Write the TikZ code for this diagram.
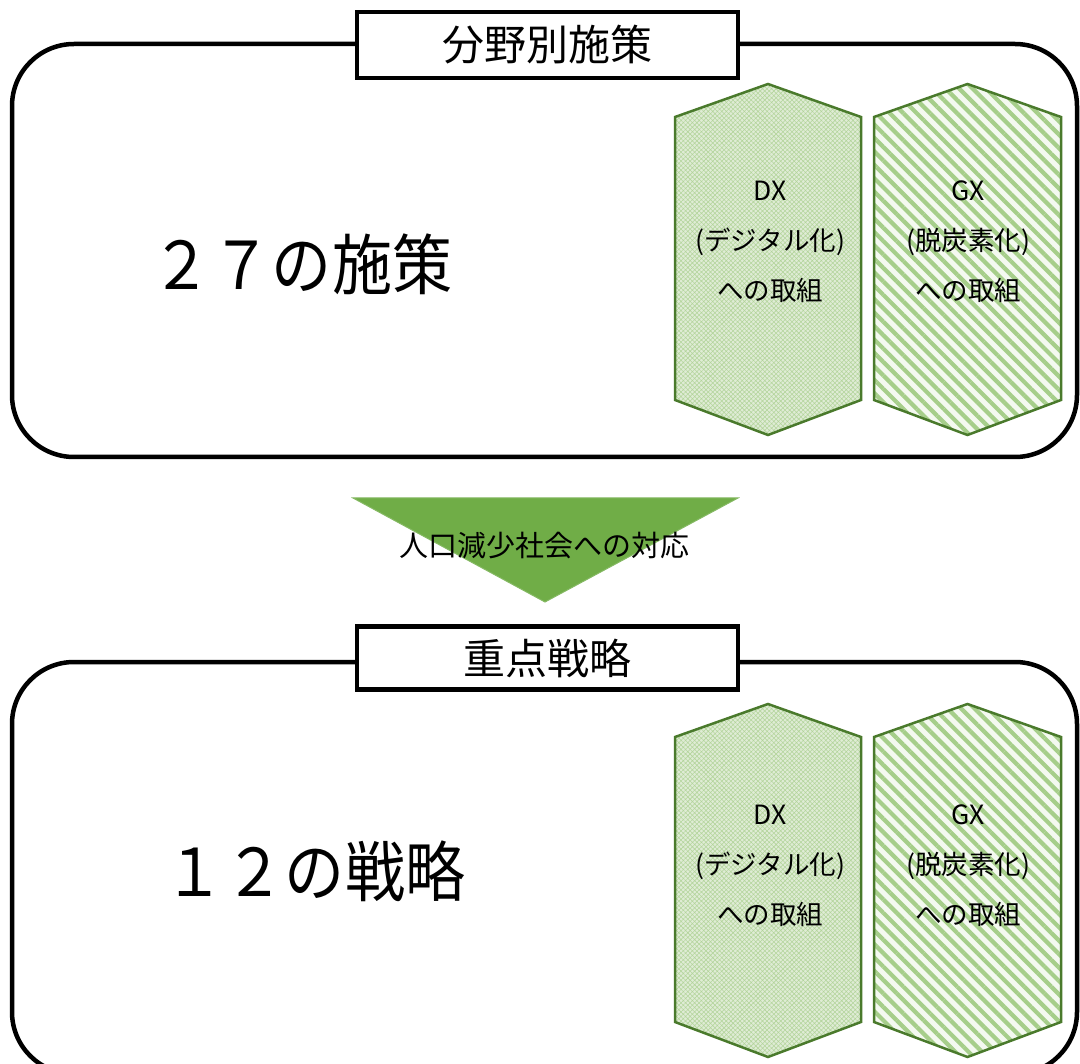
\documentclass[tikz,border=0pt]{standalone}
\usepackage{fontspec}
\setmainfont{Noto Sans CJK JP}
\usetikzlibrary{patterns.meta}
\definecolor{hexline}{HTML}{4A7A2C}
\definecolor{dxfill}{HTML}{DFECD5}
\definecolor{dxpat}{HTML}{B3D49B}
\definecolor{gxfill}{HTML}{F4F9F0}
\definecolor{gxpat}{HTML}{A6CE8A}
\definecolor{trifill}{HTML}{70AD47}
\newcommand{\hexshape}[5]{%
  \path[#5] ({#1},{#3+33}) -- ({(#1+#2)/2},{#3}) -- ({#2},{#3+33}) -- ({#2},{#4-35}) -- ({(#1+#2)/2},{#4}) -- ({#1},{#4-35}) -- cycle;}
\tikzset{
  bigframe/.style={draw=black, line width=4.5pt, rounded corners=62pt},
  titlebox/.style={draw=black, fill=white, line width=4.5pt, minimum width=381pt, minimum height=66pt, inner sep=0pt, font=\fontsize{42}{44}\selectfont},
  hextext/.style={align=center, font=\fontsize{26.5}{50}\selectfont, inner sep=0pt},
  bigtext/.style={font=\fontsize{66}{70}\selectfont, xscale=0.91, inner sep=0pt},
  dxbg/.style={fill=dxfill},
  dxpt/.style={pattern={Hatch[distance=3.2pt, angle=45, line width=0.55pt]}, pattern color=dxpat},
  gxbg/.style={fill=gxfill},
  gxpt/.style={pattern={Lines[distance=9.5pt, angle=-45, line width=4.2pt]}, pattern color=gxpat},
  hexborder/.style={draw=hexline, line width=2.5pt, line join=miter}
}
\begin{document}
\begin{tikzpicture}[x=1pt,y=-1pt]
\useasboundingbox (0,0) rectangle (1080,1064);
\fill[white] (0,0) rectangle (1080,1064);

% ---------- top panel ----------
\draw[bigframe] (12,44) rectangle (1077,457);
\node[titlebox] (t1) at (547.5,45) {分野別施策};
\node[bigtext] (n27) at (302,264) {２７の施策};

\hexshape{675}{861}{84}{435}{dxbg}
\hexshape{675}{861}{84}{435}{dxpt}
\hexshape{675}{861}{84}{435}{hexborder}
\node[hextext] (dx1) at (770,242) {DX\\(デジタル化)\\への取組};

\hexshape{874}{1061}{84}{435}{gxbg}
\hexshape{874}{1061}{84}{435}{gxpt}
\hexshape{874}{1061}{84}{435}{hexborder}
\node[hextext] (gx1) at (968,242) {GX\\(脱炭素化)\\への取組};

% ---------- arrow ----------
\coordinate (ta) at (353,498);
\coordinate (tb) at (738,498);
\coordinate (tc) at (545,602);
\draw[fill=trifill, draw=trifill!85!white, line width=1pt] (ta) -- (tb) -- (tc) -- cycle;
\node[font=\fontsize{29}{32}\selectfont, inner sep=0pt] (arr) at (544,546) {人口減少社会への対応};

% ---------- bottom panel ----------
\draw[bigframe] (12,662) rectangle (1077,1074);
\node[titlebox, minimum height=63pt] (t2) at (547.5,658) {重点戦略};
\node[bigtext] (n12) at (315,871) {１２の戦略};

\hexshape{675}{861}{704}{1057}{dxbg}
\hexshape{675}{861}{704}{1057}{dxpt}
\hexshape{675}{861}{704}{1057}{hexborder}
\node[hextext] (dx2) at (770,866) {DX\\(デジタル化)\\への取組};

\hexshape{874}{1061}{704}{1057}{gxbg}
\hexshape{874}{1061}{704}{1057}{gxpt}
\hexshape{874}{1061}{704}{1057}{hexborder}
\node[hextext] (gx2) at (968,866) {GX\\(脱炭素化)\\への取組};
\end{tikzpicture}
\end{document}
